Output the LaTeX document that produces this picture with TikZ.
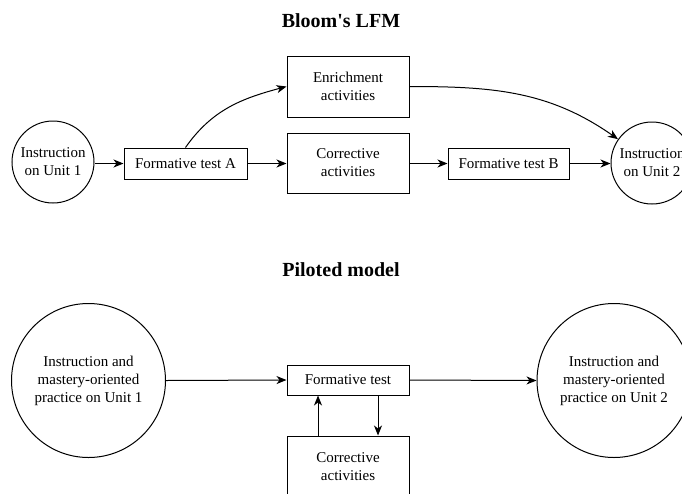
\documentclass[tikz,border=0pt]{standalone}
\usepackage{fontspec}
\setmainfont{Liberation Serif}
\usetikzlibrary{arrows.meta}
\begin{document}
\begin{tikzpicture}[x=1pt,y=-1pt,
  every node/.style={font=\fontsize{15}{18}\selectfont, align=center},
  box/.style={draw, line width=1pt, inner sep=0pt},
  circ/.style={draw, circle, line width=1pt, inner sep=0pt},
  ttl/.style={font=\fontsize{20}{24}\selectfont\bfseries},
  arr/.style={line width=1pt, -{Stealth[length=10pt,width=8pt,inset=3pt]}}]
\useasboundingbox (0,0) rectangle (682,493);
\clip (0,0) rectangle (682,493);
% Bloom's LFM
\node[ttl] (t1) at (341,21) {Bloom\textquotesingle s LFM};
\node[circ, minimum size=82pt] (c1) at (53,162) {Instruction\\on Unit 1};
\node[box, minimum width=123pt, minimum height=31pt] (fta) at (185.5,163.5) {Formative test A};
\node[box, minimum width=122pt, minimum height=61pt] (enr) at (348,86.5) {Enrichment\\activities};
\node[box, minimum width=122pt, minimum height=60pt] (cor) at (348,163) {Corrective\\activities};
\node[box, minimum width=121pt, minimum height=31pt] (ftb) at (508.5,163.5) {Formative test B};
\node[circ, minimum size=82pt] (c2) at (652,163) {Instruction\\on Unit 2};
\draw[arr] (c1.east |- fta.west) -- (fta.west);
\draw[arr] (fta.east) -- (cor.west |- fta.east);
\draw[arr] (cor.east |- ftb.west) -- (ftb.west);
\draw[arr] (ftb.east) -- (c2.west |- ftb.east);
\draw[arr] (fta.north) to[out=55,in=195] (enr.west);
\draw[arr] (enr.east) to[out=0,in=145] (c2.145);
% Piloted model
\node[ttl] (t2) at (341,270) {Piloted model};
\node[circ, minimum size=154pt] (p1) at (88.5,380.5) {Instruction and\\mastery-oriented\\practice on Unit 1};
\node[box, minimum width=122pt, minimum height=30pt] (ft) at (348,380) {Formative test};
\node[box, minimum width=122pt, minimum height=61pt] (pcor) at (348,466.5) {Corrective\\activities};
\node[circ, minimum size=154pt] (p2) at (614,380.5) {Instruction and\\mastery-oriented\\practice on Unit 2};
\draw[arr] (p1.east) -- (ft.west);
\draw[arr] (ft.east) -- (p2.west);
\draw[arr] ([xshift=-30pt]pcor.north) -- ([xshift=-30pt]ft.south);
\draw[arr] ([xshift=30pt]ft.south) -- ([xshift=30pt]pcor.north);
\end{tikzpicture}
\end{document}
